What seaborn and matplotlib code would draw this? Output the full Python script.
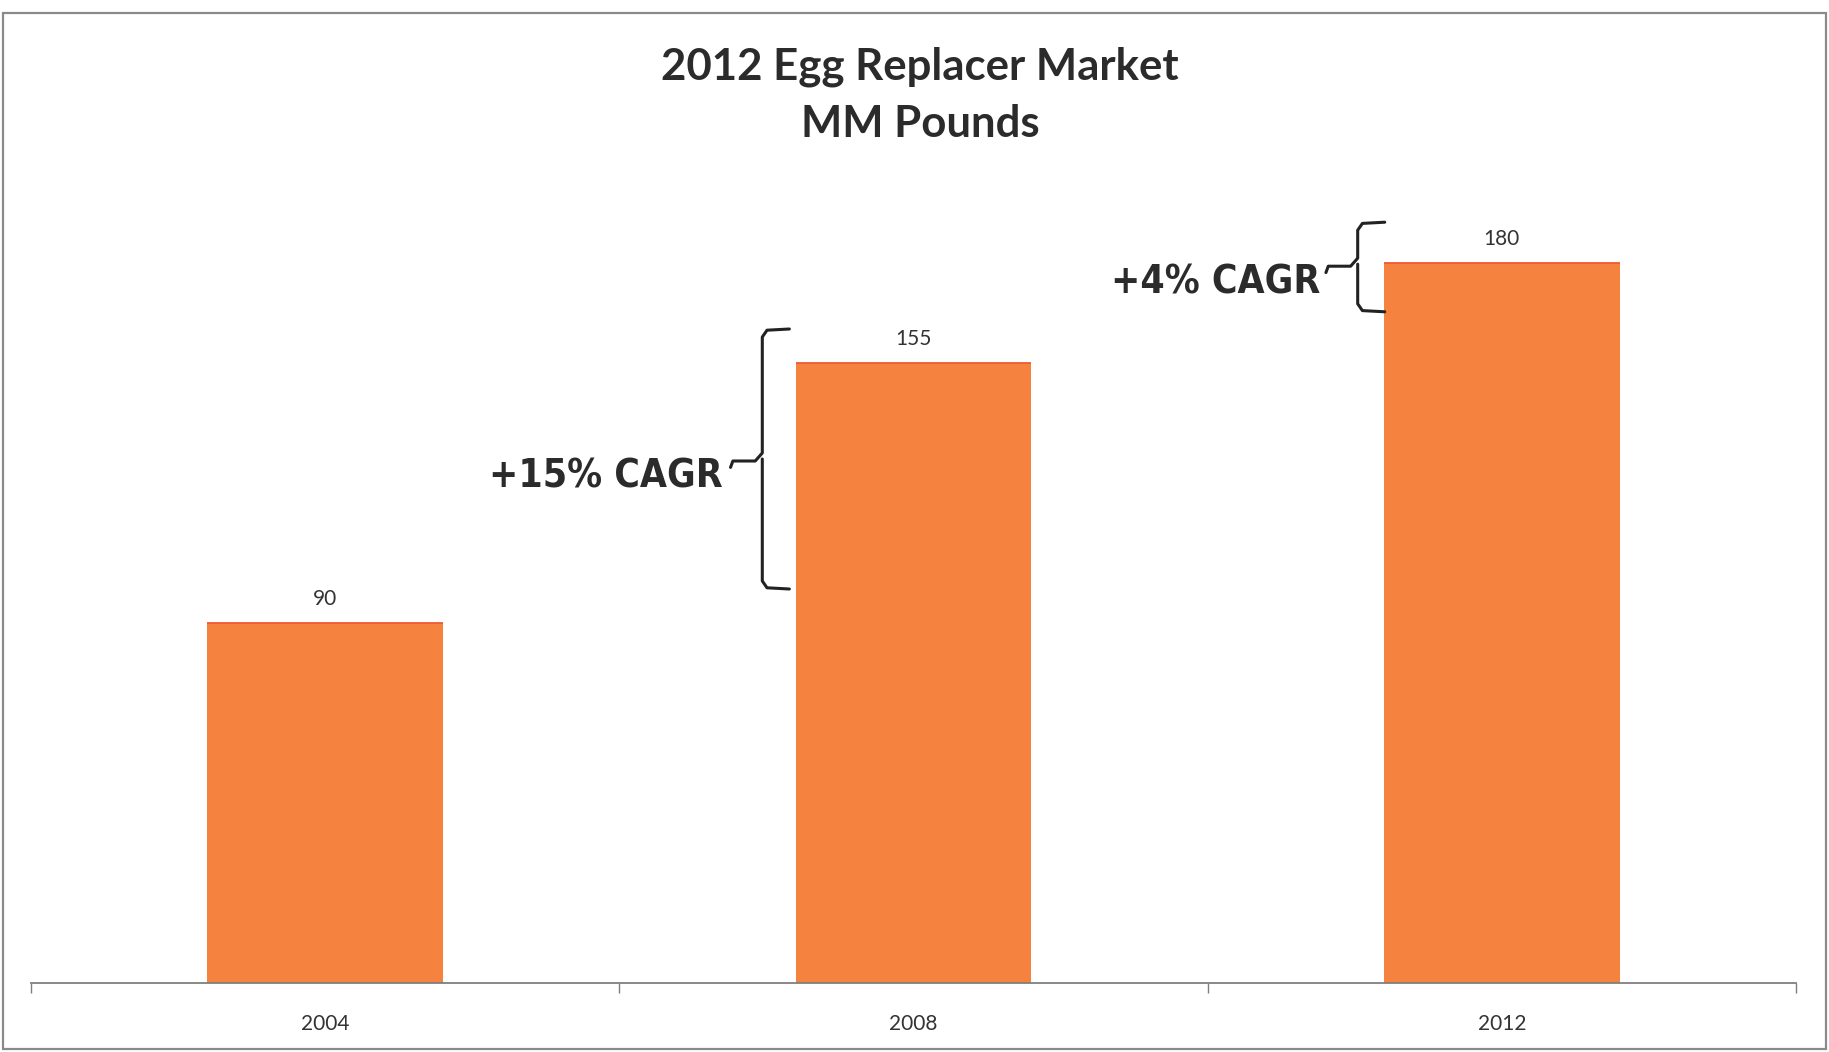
import matplotlib
matplotlib.use("Agg")
import matplotlib.pyplot as plt
from matplotlib.patches import Rectangle
from matplotlib import font_manager
import seaborn as sns
import pandas as pd

# Egg replacer market volume, MM pounds
years = ["2004", "2008", "2012"]
volumes = [90, 155, 180]

# Growth callouts between the periods
cagr_labels = ["+15% CAGR", "+4% CAGR"]

df = pd.DataFrame({"year": years, "volume": volumes})

sns.set_theme(style="white")
plt.rcParams["font.family"] = ["Lato", "DejaVu Sans"]

W, H = 1829, 1052
fig = plt.figure(figsize=(W / 100, H / 100), dpi=100)
fig.patch.set_facecolor("white")

# axes placed in pixel terms
left, right, base, top = 31, 1796, 983, 150
ax = fig.add_axes([left / W, (H - base) / H, (right - left) / W, (base - top) / H])

bar_color = "#F6823F"
sns.barplot(data=df, x="year", y="volume", color=bar_color, saturation=1,
            width=0.40, ax=ax, edgecolor="none", linewidth=0)

# thin darker rim along each bar top
for p in ax.patches:
    ax.plot([p.get_x(), p.get_x() + p.get_width()], [p.get_height()] * 2,
            color="#EE5A35", lw=1.3, solid_capstyle="butt")

ax.set_xlim(-0.5, 2.5)
ax.set_ylim(0, (base - top) / 4.0)
ax.set_xlabel("")
ax.set_ylabel("")
ax.set_yticks([])
for s in ["top", "right", "left"]:
    ax.spines[s].set_visible(False)
ax.spines["bottom"].set_color("#7f7f7f")
ax.spines["bottom"].set_linewidth(1.3)

ax.set_xticks([-0.5, 0.5, 1.5, 2.5], minor=True)
ax.tick_params(axis="x", which="minor", length=7, width=1.0, color="#7f7f7f",
               direction="out", bottom=True)
ax.tick_params(axis="x", which="major", length=0, pad=22.5, labelsize=15,
               labelcolor="#333333")

# value labels above bars
for i, v in enumerate(volumes):
    ax.annotate(str(v), (i, v), xytext=(0, 17.5), textcoords="offset points",
                ha="center", va="center", fontsize=15, color="#333333")


def brace(ax, x, y0, y1, ytip, serif=0.046, tip=0.05):
    kw = dict(color="#222222", lw=2.2, solid_capstyle="round", solid_joinstyle="round")
    # upper arm: top serif, spine, then the pointer running left with a small hook
    ax.plot([x + serif, x + 0.008, x, x, x - 0.012, x - tip, x - tip - 0.004],
            [y1, y1 - 0.3, y1 - 2.0, ytip + 2.0, ytip, ytip, ytip - 1.6], **kw)
    # lower arm
    ax.plot([x, x, x + 0.008, x + serif],
            [ytip + 0.5, y0 + 2.0, y0 + 0.3, y0], **kw)


brace(ax, 0.743, 98.5, 163.5, 130.5)
brace(ax, 1.755, 167.8, 190.2, 179.2)

# pick a condensed bold face for the callouts when one is available
cond = None
for f in font_manager.fontManager.ttflist:
    nm = f.name.lower()
    st = str(f.stretch).lower()
    if (("narrow" in nm or "condensed" in nm or "condensed" in st)
            and f.weight in ("bold", 700, "700")):
        cond = f.fname
        break
if cond:
    cagr_props = dict(fontproperties=font_manager.FontProperties(fname=cond, size=28))
else:
    cagr_props = dict(family=["Roboto", "DejaVu Sans"], fontweight="bold", fontsize=27)

ax.text(0.676, 126.5, cagr_labels[0], ha="right", va="center", color="#2b2b2b", **cagr_props)
ax.text(1.691, 175.0, cagr_labels[1], ha="right", va="center", color="#2b2b2b", **cagr_props)

# title
fig.text(920 / W, 1 - 79 / H, "2012 Egg Replacer Market", ha="center", va="baseline",
         fontsize=31.5, fontweight="bold", color="#2b2b2b")
fig.text(920 / W, 1 - 137 / H, "MM Pounds", ha="center", va="baseline",
         fontsize=31.5, fontweight="bold", color="#2b2b2b")

# frame around the chart
fig.add_artist(Rectangle((3 / W, 3 / H), 1823 / W, (1049 - 13) / H, transform=fig.transFigure,
                         fill=False, edgecolor="#8a8a8a", lw=1.6))

fig.savefig("out.png", dpi=100, facecolor="white")
